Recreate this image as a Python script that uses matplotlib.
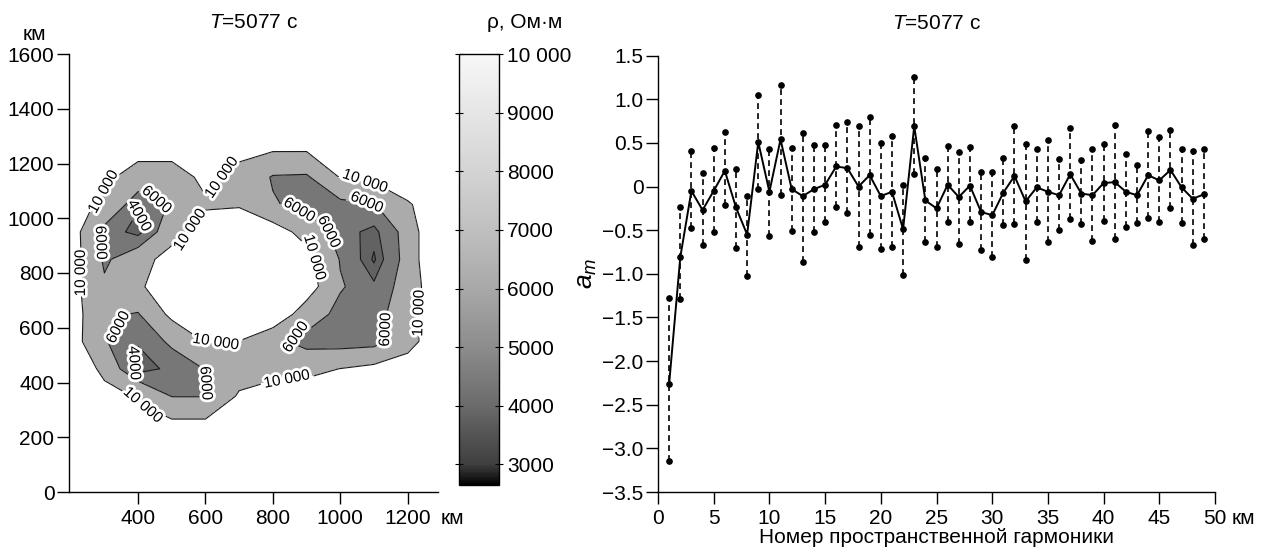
import numpy as np
import matplotlib
matplotlib.use("Agg")
import matplotlib.pyplot as plt
import matplotlib.patheffects as pe
from matplotlib.colors import LinearSegmentedColormap, Normalize
from matplotlib.cm import ScalarMappable
from matplotlib.ticker import FuncFormatter, MultipleLocator

plt.rcParams['font.family'] = ['Liberation Sans', 'DejaVu Sans']
plt.rcParams['mathtext.fontset'] = 'custom'
plt.rcParams['mathtext.rm'] = 'Liberation Sans'
plt.rcParams['mathtext.it'] = 'Liberation Sans:italic'
plt.rcParams['axes.unicode_minus'] = True

FS = 15

# --- left panel: resistivity grid (km) ---
grid_x = [200, 300, 400, 500, 600, 700, 800, 900, 1000, 1100, 1200, 1300]
grid_y = [250, 350, 450, 550, 650, 750, 850, 950, 1050, 1150, 1250, 1350]
rho = [
    [12000, 12000, 11500, 10800, 10800, 11500, 12000, 12000, 12000, 12000, 12000, 12000],
    [12000, 12000, 9500, 5900, 5900, 10500, 12000, 12000, 12000, 12000, 12000, 12000],
    [15000, 8500, 3100, 4500, 6100, 8000, 8500, 9000, 10050, 11000, 12000, 12000],
    [12000, 6200, 4200, 6500, 10200, 9900, 7000, 4800, 4500, 4800, 8500, 13000],
    [12000, 6500, 5800, 11000, 15000, 15000, 13000, 8000, 5000, 4800, 8000, 14000],
    [11500, 6500, 9000, 14000, 15000, 15000, 14000, 12000, 6300, 4300, 7200, 14000],
    [12000, 5500, 8000, 12000, 15000, 15000, 14000, 11500, 5800, 2800, 7000, 16000],
    [12000, 5000, 3400, 8000, 12000, 14000, 12000, 8500, 4700, 3500, 7000, 16000],
    [12000, 9000, 4200, 6300, 9500, 9500, 6300, 5000, 5000, 5800, 9500, 13000],
    [14000, 11000, 8000, 8000, 11000, 9000, 5700, 5500, 10200, 11000, 13000, 14000],
    [14000, 13000, 11500, 11500, 12000, 10800, 10300, 10300, 11000, 12000, 13000, 14000],
    [14000, 14000, 14000, 14000, 14000, 14000, 14000, 14000, 14000, 14000, 14000, 14000],
]
fill_levels = [0, 3000, 4000, 6000, 10000, 30000]
fill_colors = ['#555555', '#626262', '#777777', '#ababab', '#ffffff']
minor_levels = [3000]
label_levels = [4000, 6000, 10000]
# approximate label spots (km)
label_spots = [(228, 800), (300, 1095), (277, 910), (474, 1092), (410, 1010),
               (553, 958), (662, 1141), (1067, 1105), (1077, 1050), (1010, 975),
               (860, 995), (919, 855), (1220, 654), (1141, 593), (860, 574),
               (632, 532), (840, 422), (306, 617), (385, 471), (623, 398),
               (420, 324)]

# --- right panel: spatial harmonics ---
harm = list(range(1, 50))
a_upper = [-1.28, -0.23, 0.41, 0.16, 0.44, 0.62, 0.20, -0.11, 1.05, 0.43,
           1.16, 0.44, 0.61, 0.47, 0.47, 0.71, 0.74, 0.69, 0.80, 0.50,
           0.58, 0.02, 1.25, 0.33, 0.20, 0.46, 0.40, 0.45, 0.17, 0.17,
           0.33, 0.69, 0.49, 0.43, 0.53, 0.32, 0.67, 0.30, 0.43, 0.49,
           0.70, 0.37, 0.25, 0.64, 0.57, 0.65, 0.43, 0.41, 0.43]
a_mid = [-2.26, -0.81, -0.05, -0.27, -0.05, 0.18, -0.24, -0.55, 0.51, -0.06,
         0.54, -0.03, -0.11, -0.03, 0.02, 0.23, 0.21, 0.00, 0.13, -0.11,
         -0.06, -0.49, 0.69, -0.16, -0.25, 0.02, -0.12, 0.01, -0.29, -0.33,
         -0.07, 0.12, -0.17, -0.01, -0.06, -0.10, 0.14, -0.08, -0.10, 0.04,
         0.05, -0.06, -0.10, 0.13, 0.07, 0.19, -0.01, -0.14, -0.09]
a_lower = [-3.14, -1.29, -0.47, -0.67, -0.52, -0.21, -0.70, -1.02, -0.03, -0.57,
           -0.10, -0.51, -0.86, -0.52, -0.41, -0.24, -0.30, -0.69, -0.55, -0.72,
           -0.69, -1.01, 0.14, -0.63, -0.69, -0.41, -0.66, -0.41, -0.73, -0.81,
           -0.44, -0.43, -0.84, -0.41, -0.64, -0.50, -0.37, -0.43, -0.62, -0.39,
           -0.60, -0.46, -0.42, -0.36, -0.41, -0.25, -0.42, -0.67, -0.60]

cbar_vals = [2650, 2800, 3000, 3500, 4000, 5000, 6000, 7000, 8000, 9000, 10000]
cbar_greys = [0.0, 0.12, 0.25, 0.33, 0.42, 0.55, 0.66, 0.75, 0.83, 0.90, 0.97]

W, H = 1261, 551
fig = plt.figure(figsize=(W / 100, H / 100), dpi=100)


def px(x0, y0, x1, y1):
    # pixel box (left, top, right, bottom) -> figure fraction
    return [x0 / W, 1 - y1 / H, (x1 - x0) / W, (y1 - y0) / H]


def style_axes(ax):
    for s in ['top', 'right']:
        ax.spines[s].set_visible(False)
    for s in ['left', 'bottom']:
        ax.spines[s].set_linewidth(1.0)
    ax.tick_params(direction='out', length=8.5, width=1, labelsize=FS)
    ax.tick_params(axis='x', pad=4)
    ax.tick_params(axis='y', pad=2)


def thousands(v, pos=None):
    v = int(round(v))
    return '10 000' if v == 10000 else str(v)


# ---------- left map ----------
ax1 = fig.add_axes(px(69, 54, 438, 492))
X, Y = np.meshgrid(grid_x, grid_y)
Z = np.array(rho, dtype=float)
ax1.contourf(X, Y, Z, levels=fill_levels, colors=fill_colors)
ax1.contour(X, Y, Z, levels=minor_levels, colors='#1a1a1a', linewidths=0.8)
cs = ax1.contour(X, Y, Z, levels=label_levels, colors='#1a1a1a', linewidths=0.8)
labels = ax1.clabel(cs, fmt=thousands, fontsize=11,
                    inline=True, inline_spacing=4, manual=label_spots)
for t in labels:
    t.set_path_effects([pe.withStroke(linewidth=4, foreground='white')])
    t.set_color('black')
ax1.set_xlim(195, 1290)
ax1.set_ylim(0, 1600)
ax1.set_xticks([400, 600, 800, 1000, 1200])
ax1.set_yticks(range(0, 1601, 200))
style_axes(ax1)
ax1.set_title('$T$=5077 с', fontsize=FS, pad=19)
fig.text(34 / W, 1 - 34 / H, 'км', fontsize=FS, ha='center', va='center')
fig.text(441 / W, 1 - 519 / H, 'км', fontsize=FS, ha='left', va='center')

# ---------- colorbar ----------
cax = fig.add_axes(px(459, 54, 499, 485))
cmap = LinearSegmentedColormap.from_list(
    'grey_rho',
    [((v - cbar_vals[0]) / (cbar_vals[-1] - cbar_vals[0]), (g, g, g))
     for v, g in zip(cbar_vals, cbar_greys)])
sm = ScalarMappable(norm=Normalize(cbar_vals[0], cbar_vals[-1]), cmap=cmap)
cb = fig.colorbar(sm, cax=cax, ticks=range(3000, 10001, 1000))
cb.outline.set_linewidth(1.0)
cax.yaxis.set_major_formatter(FuncFormatter(thousands))
cax.tick_params(axis='y', left=True, right=True, direction='inout', length=6,
                width=0.8, labelsize=FS, pad=3)
fig.text(487 / W, 1 - 22 / H, 'ρ, Ом·м', fontsize=FS, ha='left', va='center')

# ---------- right panel ----------
ax2 = fig.add_axes(px(658, 55.6, 1215, 492))
ax2.vlines(harm, a_lower, a_upper, colors='black', linestyles=(0, (3.5, 2.5)),
           linewidth=1.2)
ax2.plot(harm, a_upper, 'o', color='black', ms=3.8)
ax2.plot(harm, a_lower, 'o', color='black', ms=3.8)
ax2.plot(harm, a_mid, '-o', color='black', lw=1.4, ms=3.8)
ax2.set_xlim(0, 50)
ax2.set_ylim(-3.5, 1.5)
ax2.xaxis.set_major_locator(MultipleLocator(5))
ax2.yaxis.set_major_locator(MultipleLocator(0.5))
ax2.yaxis.set_major_formatter(FuncFormatter(
    lambda v, p: '0' if abs(v) < 1e-9 else f'{v:.1f}'.replace('-', '\u2212')))
style_axes(ax2)
ax2.set_title('$T$=5077 с', fontsize=FS, pad=19)
ax2.set_xlabel('Номер пространственной гармоники', fontsize=FS, labelpad=0)
ax2.set_ylabel('$a_m$', fontsize=19, labelpad=2)
fig.text(1232 / W, 1 - 519 / H, 'км', fontsize=FS, ha='left', va='center')

fig.savefig('out.png', dpi=100, facecolor='white')
